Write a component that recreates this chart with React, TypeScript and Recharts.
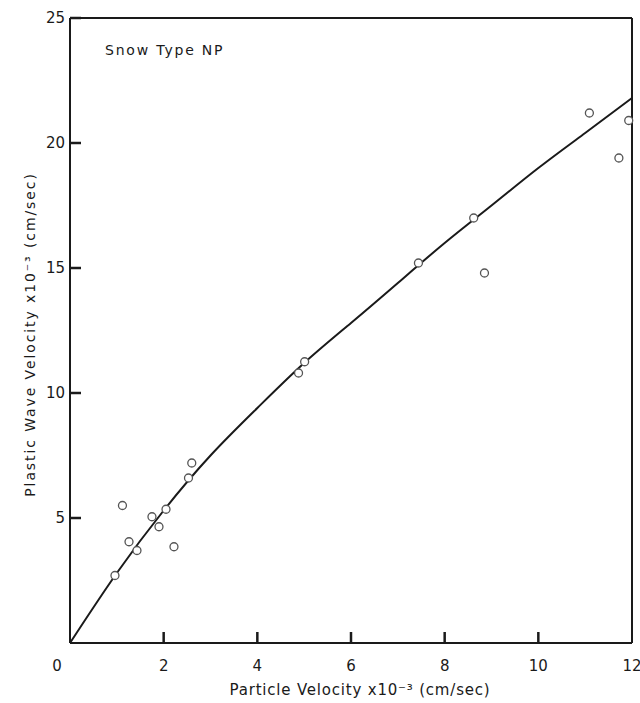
import React from 'react';
import {
  ComposedChart,
  XAxis,
  YAxis,
  ZAxis,
  Line,
  Scatter,
  ReferenceLine,
  Label,
} from 'recharts';

// fitted curve
const curveX = [0, 1, 2, 3, 4, 5, 6, 7, 8, 9, 10, 11, 12];
const curveY = [0, 2.8, 5.3, 7.5, 9.4, 11.2, 12.8, 14.4, 16.0, 17.5, 19.0, 20.4, 21.8];

// measured points
const pointX = [0.96, 1.12, 1.26, 1.43, 1.75, 1.9, 2.05, 2.22, 2.53, 2.6, 4.88, 5.01, 7.44, 8.62, 8.85, 11.09, 11.72, 11.93];
const pointY = [2.7, 5.5, 4.05, 3.7, 5.05, 4.65, 5.35, 3.85, 6.6, 7.2, 10.8, 11.25, 15.2, 17.0, 14.8, 21.2, 19.4, 20.9];

const xTicks = [0, 2, 4, 6, 8, 10, 12];
const yTicks = [5, 10, 15, 20, 25];

const curveData = curveX.map((x, i) => ({ x, y: curveY[i] }));
const pointData = pointX.map((x, i) => ({ x, y: pointY[i] }));

const FONT = '"DejaVu Sans", sans-serif';
const INK = '#1a1a1a';
const X_MARGIN = 17;
const TICK_IN = 11;

// label plus an inward tick mark
function XTick(props: any) {
  const { x, y, payload } = props;
  const axisY = y - X_MARGIN;
  const shift = payload.value === 0 ? -13 : 0;
  return (
    <g>
      {payload.value > 0 && payload.value < 12 && (
        <line x1={x} x2={x} y1={axisY} y2={axisY - TICK_IN} stroke={INK} strokeWidth={2.5} />
      )}
      <text x={x + shift} y={y} dy="0.71em" textAnchor="middle" fontSize={15} fill={INK} fontFamily={FONT}>
        {payload.value}
      </text>
    </g>
  );
}

function XTitle(props: any) {
  const { x, y, width, height } = props.viewBox;
  return (
    <text x={x + width / 2 + 9} y={y + height - 8} textAnchor="middle" fontSize={15} letterSpacing={0.8} fill={INK} fontFamily={FONT}>
      Particle Velocity x10⁻³ (cm/sec)
    </text>
  );
}

function YTitle(props: any) {
  const { x, y, height } = props.viewBox;
  const cx = x + 30;
  const cy = y + height / 2 + 4;
  return (
    <text x={cx} y={cy} dy="0.355em" transform={`rotate(-90, ${cx}, ${cy})`} textAnchor="middle" fontSize={14} letterSpacing={1.9} fill={INK} fontFamily={FONT}>
      Plastic Wave Velocity x10⁻³ (cm/sec)
    </text>
  );
}

export default function App() {
  return (
    <div style={{ position: 'absolute', left: 0, top: 0, width: 640, height: 703, background: '#fff' }}>
      <ComposedChart
        width={640}
        height={703}
        margin={{ top: 18, right: 8, bottom: 0, left: 0 }}
      >
        <XAxis
          type="number"
          dataKey="x"
          domain={[0, 12]}
          ticks={xTicks}
          height={60}
          stroke={INK}
          strokeWidth={2}
          tickSize={0}
          tickMargin={X_MARGIN}
          tick={<XTick />}
        >
          <Label content={<XTitle />} />
        </XAxis>
        <YAxis
          type="number"
          dataKey="y"
          domain={[0, 25]}
          ticks={yTicks}
          width={70}
          stroke={INK}
          strokeWidth={2}
          tickSize={-TICK_IN}
          tickMargin={16}
          tickLine={{ stroke: INK, strokeWidth: 2.5 }}
          tick={{ fontSize: 15, fill: INK, fontFamily: FONT }}
        >
          <Label content={<YTitle />} />
        </YAxis>
        <ZAxis range={[50, 50]} />
        <ReferenceLine y={25} stroke={INK} strokeWidth={2} />
        <ReferenceLine x={12} stroke={INK} strokeWidth={2} />
        <Line
          data={curveData}
          dataKey="y"
          type="natural"
          stroke={INK}
          strokeWidth={2}
          dot={false}
          isAnimationActive={false}
        />
        <Scatter
          data={pointData}
          fill="#fff"
          stroke="#555"
          strokeWidth={1.3}
          isAnimationActive={false}
        />
      </ComposedChart>
      <div
        style={{
          position: 'absolute',
          left: 105,
          top: 42,
          fontFamily: FONT,
          fontSize: 14,
          letterSpacing: 1.8,
          color: INK,
        }}
      >
        Snow Type NP
      </div>
    </div>
  );
}
